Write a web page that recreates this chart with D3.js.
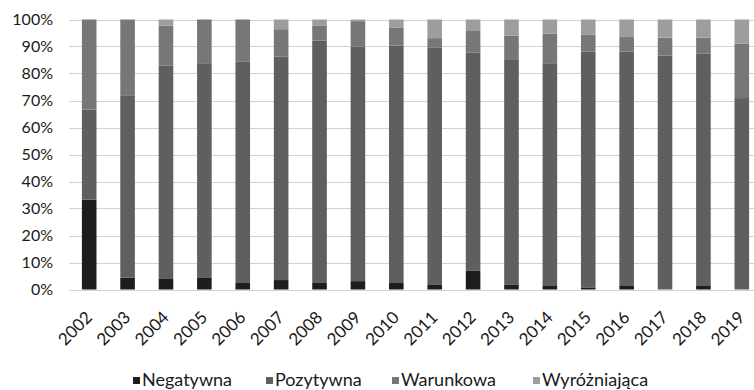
<!DOCTYPE html>
<html>
<head>
<meta charset="utf-8">
<script src="https://cdn.jsdelivr.net/npm/d3@7"></script>
<style>
  html, body { margin: 0; padding: 0; background: #fff; }
  svg { display: block; }
  text { font-family: Lato, "Liberation Sans", sans-serif; fill: #1a1a1a; }
</style>
</head>
<body>
<svg id="chart" width="754" height="390"></svg>
<script>
// Share of opinions per year (percent of total)
const years = ["2002","2003","2004","2005","2006","2007","2008","2009","2010",
               "2011","2012","2013","2014","2015","2016","2017","2018","2019"];
const seriesNames = ["Negatywna", "Pozytywna", "Warunkowa", "Wyróżniająca"];
const negatywna    = [33.3, 4.4, 3.9, 4.5, 2.4, 3.5, 2.4, 3.1, 2.4, 1.9, 6.9, 1.7, 1.3, 0.6, 1.3, 0.0, 1.3, 0.0];
const pozytywna    = [33.3, 67.3, 79.1, 79.3, 82.1, 82.7, 89.8, 86.8, 87.9, 87.8, 80.9, 83.3, 82.5, 87.5, 86.8, 86.6, 86.0, 70.9];
const warunkowa    = [33.4, 28.3, 14.7, 16.2, 15.5, 10.2, 5.6, 9.5, 6.6, 3.4, 8.2, 9.0, 10.9, 6.2, 5.4, 6.7, 6.0, 20.1];
const wyrozniajaca = [0.0, 0.0, 2.3, 0.0, 0.0, 3.6, 2.2, 0.6, 3.1, 6.9, 4.0, 6.0, 5.3, 5.7, 6.5, 6.7, 6.7, 9.0];
const yTicks = [0, 10, 20, 30, 40, 50, 60, 70, 80, 90, 100];
const colors = ["#1d1d1d", "#5f5f5f", "#777777", "#9d9d9d"];

const rows = years.map((y, i) => ({
  year: y,
  "Negatywna": negatywna[i],
  "Pozytywna": pozytywna[i],
  "Warunkowa": warunkowa[i],
  "Wyróżniająca": wyrozniajaca[i]
}));

const svg = d3.select("#chart");
const margin = { left: 70, top: 19.5, bottom: 289.5 };
const plotRight = 761;

const x = d3.scaleBand().domain(years).range([margin.left, plotRight]).paddingInner(0.62).paddingOuter(0.31);
const y = d3.scaleLinear().domain([0, 100]).range([margin.bottom, margin.top]);
const color = d3.scaleOrdinal().domain(seriesNames).range(colors);

// horizontal gridlines
svg.append("g").selectAll("line").data(yTicks).join("line")
  .attr("x1", margin.left - 1).attr("x2", 754)
  .attr("y1", d => Math.round(y(d)) + 0.5).attr("y2", d => Math.round(y(d)) + 0.5)
  .attr("stroke", "#d2d2d2").attr("stroke-width", 1);

// y axis labels
const yAxis = d3.axisLeft(y).tickValues(yTicks).tickFormat(d => d + "%").tickSize(0).tickPadding(0);
const yg = svg.append("g").attr("transform", `translate(${margin.left - 17},0)`).call(yAxis);
yg.select(".domain").remove();
yg.selectAll("text").attr("font-size", 16).attr("fill", "#1a1a1a")
  .attr("font-family", "Lato, 'Liberation Sans', sans-serif");

// stacked bars
const stack = d3.stack().keys(seriesNames)(rows);
svg.append("g").selectAll("g").data(stack).join("g")
  .attr("fill", d => color(d.key))
  .selectAll("rect").data(d => d).join("rect")
  .attr("x", d => x(d.data.year))
  .attr("width", x.bandwidth())
  .attr("y", d => y(d[1]))
  .attr("height", d => Math.max(0, y(d[0]) - y(d[1])));

// x axis labels, rotated
const xAxis = d3.axisBottom(x).tickSize(0).tickPadding(0);
const xg = svg.append("g").attr("transform", `translate(0,${margin.bottom})`).call(xAxis);
xg.select(".domain").remove();
xg.selectAll("text")
  .attr("font-size", 17).attr("fill", "#1a1a1a")
  .attr("font-family", "Lato, 'Liberation Sans', sans-serif")
  .attr("text-anchor", "end")
  .attr("dy", 0)
  .attr("transform", "translate(4,29) rotate(-45)")
  .attr("y", 0).attr("x", 0);

// legend
const legendX = [133, 266, 392, 533];
const lg = svg.append("g").selectAll("g").data(seriesNames).join("g")
  .attr("transform", (d, i) => `translate(${legendX[i]},377)`);
lg.append("rect").attr("width", 7).attr("height", 7).attr("fill", d => color(d));
lg.append("text").attr("x", 9).attr("y", 8.5).attr("font-size", 18).text(d => d);
</script>
</body>
</html>
